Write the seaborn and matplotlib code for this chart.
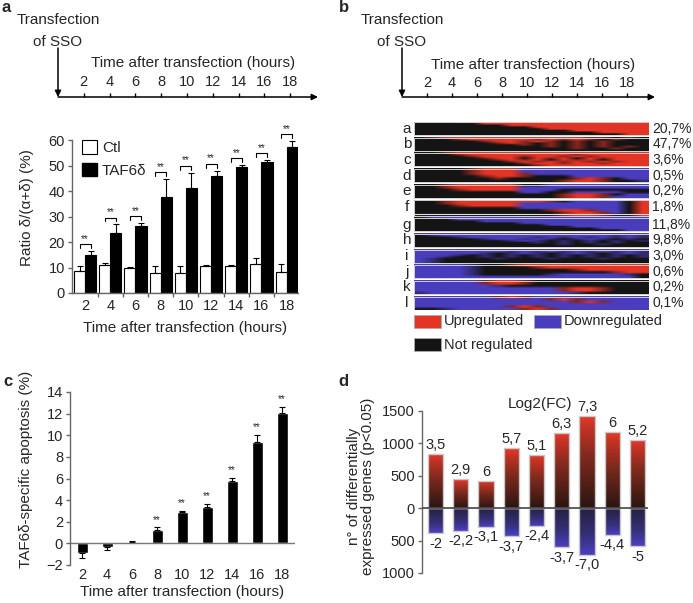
import numpy as np
import pandas as pd
import matplotlib
matplotlib.use('Agg')
import matplotlib.pyplot as plt
import seaborn as sns
from matplotlib.colors import LinearSegmentedColormap
from matplotlib.patches import Patch, Rectangle

hours = [2, 4, 6, 8, 10, 12, 14, 16, 18]

# panel a - ratio delta/(alpha+delta)
ctl_ratio = [8.8, 10.9, 9.8, 8.0, 8.0, 10.7, 10.5, 11.5, 8.3]
ctl_err = [1.7, 1.0, 0.4, 2.5, 2.5, 0.3, 0.4, 2.3, 3.0]
taf_ratio = [14.8, 23.7, 26.2, 37.7, 41.3, 45.9, 49.3, 51.2, 57.4]
taf_err = [1.7, 3.2, 1.3, 7.0, 5.9, 2.1, 1.0, 1.0, 2.2]

# panel c - TAF6delta specific apoptosis
apoptosis = [-0.92, -0.37, 0.12, 1.26, 2.90, 3.32, 5.78, 9.38, 12.03]
apoptosis_err = [0.46, 0.23, 0.13, 0.22, 0.08, 0.31, 0.25, 0.65, 0.57]
apoptosis_sig = ['', '', '', '**', '**', '**', '**', '**', '**']

# panel d - differentially expressed genes
n_up = [837, 447, 421, 924, 822, 1166, 1428, 1176, 1053]
n_down = [385, 349, 288, 431, 272, 606, 719, 411, 591]
fc_up = ['3,5', '2,9', '6', '5,7', '5,1', '6,3', '7,3', '6', '5,2']
fc_down = ['-2', '-2,2', '-3,1', '-3,7', '-2,4', '-3,7', '-7,0', '-4,4', '-5']

# panel b - clusters, one char per hour bin (1h..19h)
# '+' up, 'u' weak up, '.' not regulated, 'd' weak down, '-' down
band_labels = list('abcdefghijkl')
band_pct = ['20,7%', '47,7%', '3,6%', '0,5%', '0,2%', '1,8%',
            '11,8%', '9,8%', '3,0%', '0,6%', '0,2%', '0,1%']
band_a = ["...+++++++++++++++", ".....+++++++++++++", ".......+++++++++++",
          ".........+++++++++", "..........++++++++", "............++++++",
          "..............++++", "................++"]
band_b = [".u+++++++++++uu.u.", "...u+++++u+u+u.u..", ".....u++u+u.u.u...",
          "......u+u.u.u.u...", "........u.u.u.u...", "..........u.u.u.u.",
          "............u..u..", ".................."]
band_c = ["..u+++++++++++++++", "...u++++++++u+++++", "....u+++u++u+u++++",
          ".....u++.+u+.+u+++", "......u+u+.+u+.+++", ".......u+u+u+u+u++",
          "........u++u++u+++", ".........u++++++++"]
band_d = ["....u+++----------", "....u+++----------", "....u+++u---------",
          ".....u++u...------", "......u.....u+u.--", "...........u++u..d"]
band_e = ["..u+++++..--------", "..u+++++----------", "...u++++---.......",
          "........--..----..", "...........u++u.--", "...........u++u---"]
band_f = ["..u+++++++u.----.+", "..u+++++--------.+", "...u++++--------.+",
          "........--------.+", "..........u++u--.+", "...........u++u-.+",
          "...........u++u..+"]
band_g = [".-----------------", "...---------------", ".....-------------",
          "........----------", "..........--------", "............------",
          "..............----", "................--"]
band_h = ["------------------", ".d-------------d-d", "...d-----d-d-d-d-d",
          ".....d--d-d.d-d.d.", ".......d-d.d.d.d.d", ".........d.d.d.d..",
          "...........d..d...", ".................."]
band_i = ["------------------", "-------d-d-d-d-d-d", "-----d.d-d.d-d.d-d",
          "---d.d.d.d.d.d.d.d", "--d..d.d.d.d.d.d.d", "-d....d...d...d...",
          "-d................", "-d................"]
band_j = ["----d..u++++++++++", "----d....u++++++++", "----d.......u+++++",
          "----d..........u++", "----d.....d-----d.", "-----------------."]
band_k = ["-----u++u.........", "-----u++u.........", "------d...........",
          "-----------u++u...", "-----------u++u...", "d-----------d....."]
band_l = ["------u+u---------", "----------u+u-----", "------------u+u---",
          "------------------", "-------u+u--------", "..d-----u+u-------"]
bands = [band_a, band_b, band_c, band_d, band_e, band_f,
         band_g, band_h, band_i, band_j, band_k, band_l]

sns.set_style('white')
plt.rcParams['font.family'] = ['Liberation Sans', 'DejaVu Sans']
plt.rcParams['font.size'] = 10

W, H = 693, 603
fig = plt.figure(figsize=(W / 100, H / 100), dpi=100)


def add_axes_px(left, top, right, bottom):
    return fig.add_axes([left / W, 1 - bottom / H, (right - left) / W, (bottom - top) / H])


def style_axes(ax):
    sns.despine(ax=ax)
    for s in ['left', 'bottom']:
        ax.spines[s].set_color('#666666')
        ax.spines[s].set_linewidth(1)
    ax.tick_params(axis='y', direction='out', length=3, width=1, color='#666666',
                   labelsize=10.5, pad=2, left=True)


ov = fig.add_axes([0, 0, 1, 1])
ov.set_xlim(0, W)
ov.set_ylim(H, 0)
ov.axis('off')


def timeline(x0, step, x_end, y_title, y_ticks):
    ov.text(x0, 20, 'Transfection', ha='center', va='center', fontsize=11)
    ov.text(x0, 42, 'of SSO', ha='center', va='center', fontsize=11)
    arrow = dict(arrowstyle='-|>', color='black', lw=1.1, mutation_scale=9, shrinkA=0, shrinkB=0)
    ov.annotate('', xy=(x0, 97), xytext=(x0, 48), arrowprops=arrow)
    ov.annotate('', xy=(x_end, 97), xytext=(x0, 97), arrowprops=arrow)
    xs = [x0 + h * step for h in hours]
    ov.vlines(xs, 93, 97, color='black', lw=1)
    for x, h in zip(xs, hours):
        ov.text(x, y_ticks, str(h), ha='center', va='center', fontsize=10.5)
    ov.text((xs[0] + xs[-1]) / 2 + 6, y_title, 'Time after transfection (hours)',
            ha='center', va='center', fontsize=11)


timeline(58, 12.9, 318, 63, 82)
timeline(402, 12.5, 655, 65, 83)

for lab, x, y in [('a', 6, 8), ('b', 344, 8), ('c', 8, 381), ('d', 343, 381)]:
    ov.text(x, y, lab, ha='center', va='center', fontsize=12, fontweight='bold')

# ---------------- panel a ----------------
ax_a = add_axes_px(72, 140, 298, 293)
df_a = pd.DataFrame({'time': hours * 2, 'ratio': ctl_ratio + taf_ratio,
                     'group': ['Ctl'] * len(hours) + ['TAF6δ'] * len(hours)})
sns.barplot(data=df_a, x='time', y='ratio', hue='group',
            palette={'Ctl': 'white', 'TAF6δ': 'black'}, edgecolor='black',
            linewidth=0.8, width=0.88, errorbar=None, saturation=1, legend=False, ax=ax_a)
xc_ctl = [p.get_x() + p.get_width() / 2 for p in ax_a.containers[0]]
xc_taf = [p.get_x() + p.get_width() / 2 for p in ax_a.containers[1]]
ekw = dict(fmt='none', ecolor='black', elinewidth=0.8, capsize=2.5, capthick=0.8)
ax_a.errorbar(xc_ctl, ctl_ratio, yerr=[np.zeros(len(hours)), ctl_err], **ekw)
ax_a.errorbar(xc_taf, taf_ratio, yerr=[np.zeros(len(hours)), taf_err], **ekw)
for i in range(len(hours)):
    y = taf_ratio[i] + taf_err[i] + 2.6
    ax_a.plot([xc_ctl[i], xc_ctl[i], xc_taf[i], xc_taf[i]], [y - 1.4, y, y, y - 1.4],
              color='black', lw=0.8, clip_on=False)
    ax_a.text((xc_ctl[i] + xc_taf[i]) / 2, y + 0.2, '**', ha='center', va='bottom',
              fontsize=7, clip_on=False)
ax_a.set_ylim(0, 60)
ax_a.set_xlim(-0.52, 8.45)
ax_a.set_yticks(range(0, 61, 10))
style_axes(ax_a)
ax_a.set_xticks(np.arange(len(hours) - 1) + 0.5, minor=True)
ax_a.tick_params(axis='x', which='major', length=0, labelsize=10.5, pad=4)
ax_a.tick_params(axis='x', which='minor', length=3, width=1, color='#666666', bottom=True)
ax_a.set_xlabel('Time after transfection (hours)', fontsize=11, labelpad=6)
ax_a.set_ylabel('Ratio δ/(α+δ) (%)', fontsize=11)
ax_a.yaxis.set_label_coords(-0.17, 0.56)
handles = [Patch(facecolor='white', edgecolor='black', lw=0.8, label='Ctl'),
           Patch(facecolor='black', edgecolor='black', label='TAF6δ')]
ax_a.legend(handles=handles, loc='upper left', bbox_to_anchor=(0.044, 1.0), frameon=False,
            borderpad=0, borderaxespad=0, handlelength=1.0, handleheight=1.0,
            handletextpad=0.3, labelspacing=0.5, fontsize=11)

# ---------------- panel b ----------------
ax_b = add_axes_px(414, 122, 649, 310)
cmap_reg = LinearSegmentedColormap.from_list('reg', ['#4a3dbd', '#141414', '#e33425'])
code = {'+': 1.0, 'u': 0.55, '.': 0.0, 'd': -0.55, '-': -1.0}
for k, rows in enumerate(bands):
    mat = np.array([[code[c] for c in r] for r in rows])
    top = k + (0.14 if k >= 6 else 0)
    h = 1.0 if k == 5 else 0.84
    ax_b.imshow(mat, extent=(1, 19, top + h, top), aspect='auto', cmap=cmap_reg,
                vmin=-1, vmax=1, interpolation='bilinear')
    ax_b.add_patch(Rectangle((1, top), 18, h, fill=False, edgecolor='#d0d0d0', lw=0.7))
    ax_b.text(0.45, top + 0.42, band_labels[k], ha='center', va='center', fontsize=11)
    ax_b.text(19.25, top + 0.42, band_pct[k], ha='left', va='center', fontsize=10)
ax_b.hlines(5.86, 1, 19, color='#e0e0e0', lw=0.8)
ax_b.set_xlim(1, 19)
ax_b.set_ylim(12.0, 0)
ax_b.axis('off')

for (x0, y0, col, txt) in [(414, 315, '#e33425', 'Upregulated'),
                           (534, 315, '#4a3dbd', 'Downregulated'),
                           (414, 338, '#141414', 'Not regulated')]:
    ov.add_patch(Rectangle((x0, y0), 27, 13, facecolor=col, edgecolor='#aaaaaa', lw=0.6))
    ov.text(x0 + 30, y0 + 6.5, txt, ha='left', va='center', fontsize=10.5)

# ---------------- panel c ----------------
ax_c = add_axes_px(70, 392, 295, 565)
sns.barplot(x=hours, y=apoptosis, color='black', width=0.44, saturation=1, ax=ax_c)
xc = [p.get_x() + p.get_width() / 2 for p in ax_c.patches]
lo = [e if v < 0 else 0 for v, e in zip(apoptosis, apoptosis_err)]
hi = [e if v >= 0 else 0 for v, e in zip(apoptosis, apoptosis_err)]
ax_c.errorbar(xc, apoptosis, yerr=[lo, hi], **ekw)
for x, v, e, s in zip(xc, apoptosis, apoptosis_err, apoptosis_sig):
    if s:
        ax_c.text(x, v + e + 0.25, s, ha='center', va='bottom', fontsize=7)
ax_c.axhline(0, color='#777777', lw=1)
ax_c.set_ylim(-2, 14)
ax_c.set_xlim(-0.48, 8.52)
ax_c.set_yticks(range(-2, 15, 2))
style_axes(ax_c)
ax_c.spines['bottom'].set_visible(False)
ax_c.tick_params(axis='x', length=0, labelsize=10.5, pad=2)
ax_c.set_xlabel('Time after transfection (hours)', fontsize=11, labelpad=2)
ax_c.set_ylabel('TAF6δ-specific apoptosis (%)', fontsize=11)
ax_c.yaxis.set_label_coords(-0.164, 0.555)

# ---------------- panel d ----------------
ax_d = add_axes_px(422, 411, 648, 573)
sns.barplot(x=hours, y=n_up, color='#c33224', width=0.6, saturation=1, ax=ax_d)
sns.barplot(x=hours, y=[-v for v in n_down], color='#36307a', width=0.6, saturation=1, ax=ax_d)
cmap_up = LinearSegmentedColormap.from_list('up', [(0, '#2a1512'), (0.55, '#7e2a1e'),
                                                   (0.88, '#c63324'), (1, '#ea3a2c')])
cmap_dn = LinearSegmentedColormap.from_list('dn', [(0, '#262040'), (0.6, '#36307a'),
                                                   (1, '#4b3fc2')])
grad = np.linspace(0, 1, 256)[:, None]
for p in list(ax_d.patches):
    x0, w = p.get_x(), p.get_width()
    y0, hgt = p.get_y(), p.get_height()
    ylo, yhi = min(y0, y0 + hgt), max(y0, y0 + hgt)
    if hgt > 0:
        im = ax_d.imshow(grad, extent=(x0, x0 + w, ylo, yhi), origin='lower', aspect='auto',
                         cmap=cmap_up, zorder=1.5)
    else:
        im = ax_d.imshow(grad[::-1], extent=(x0, x0 + w, ylo, yhi), origin='lower',
                         aspect='auto', cmap=cmap_dn, zorder=1.5)
    im.set_clip_path(p)
    p.set_facecolor('none')
    p.set_edgecolor('#c8c8c8')
    p.set_linewidth(1)
    p.set_zorder(2)
xd = [i for i in range(len(hours))]
for x, v, t in zip(xd, n_up, fc_up):
    ax_d.annotate(t, (x, v), xytext=(0, 1.5), textcoords='offset points',
                  ha='center', va='bottom', fontsize=10.5)
for x, v, t in zip(xd, n_down, fc_down):
    ax_d.annotate(t, (x, -v), xytext=(0, -2.5), textcoords='offset points',
                  ha='center', va='top', fontsize=10.5)
ax_d.axhline(0, color='#444444', lw=1.2, zorder=3)
ax_d.text(4.14, 1610, 'Log2(FC)', ha='center', va='center', fontsize=11)
ax_d.set_xlim(-0.54, 8.42)
ax_d.set_ylim(-1000, 1500)
ax_d.set_yticks([-1000, -500, 0, 500, 1000, 1500])
ax_d.set_yticklabels([str(abs(v)) for v in [-1000, -500, 0, 500, 1000, 1500]])
style_axes(ax_d)
ax_d.spines['bottom'].set_visible(False)
ax_d.set_xticks([])
ax_d.set_ylabel('n° of differentially\nexpressed genes (p<0.05)', fontsize=11, linespacing=1.0)
ax_d.yaxis.set_label_coords(-0.21, 0.537)

fig.savefig('out.png', dpi=100)
